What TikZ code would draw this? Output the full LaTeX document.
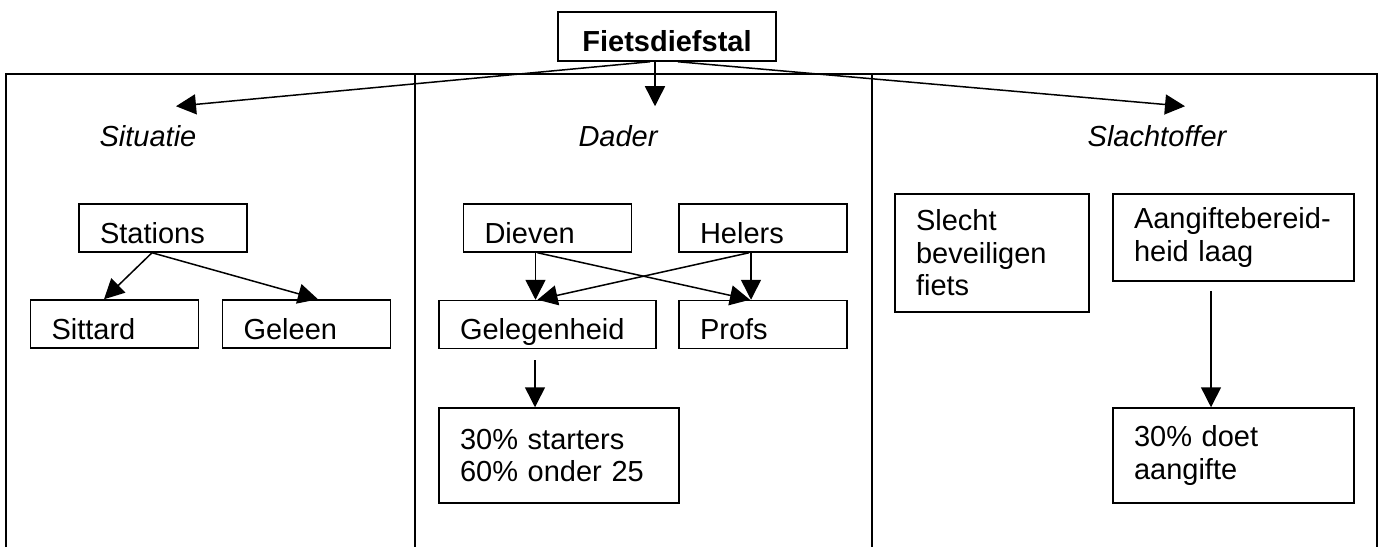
\documentclass[tikz,border=0pt]{standalone}
\usepackage{fontspec}
\setmainfont{Liberation Sans}
\usetikzlibrary{arrows.meta,positioning}
\newcommand\boxfont{\fontsize{14.5}{16.25}\selectfont}
\tikzset{
 box/.style={draw,align=left,inner xsep=10.5pt,inner ysep=0pt,font=\boxfont,
   text width=#1-21pt,minimum height=24pt,text height=15pt,text depth=0pt},
 tallbox/.style 2 args={draw,align=left,inner xsep=10.5pt,inner ysep=0pt,font=\boxfont,
   text width=#1-21pt,minimum height=#2},
 head/.style={anchor=base,inner sep=0pt,font=\boxfont\itshape},
 arr/.style={-{Triangle[length=10pt,width=10pt]}},
}

\begin{document}
\begin{tikzpicture}[x=0.5pt,y=-0.5pt,on grid,line width=0.75pt]
 \useasboundingbox (0,0) rectangle (1380,547);
 % frame
 \draw (6,547) -- (6,74) -- (1377,74) -- (1377,547);
 \draw (415,74) -- (415,547);
 \draw (872,74) -- (872,547);

 \node[draw,font=\boxfont\bfseries,minimum width=109pt,minimum height=24.5pt,inner sep=0pt,
   text height=15pt,text depth=0pt] (diefstal) at (667,36.5) {Fietsdiefstal};
 \node[head] (situatie) at (148,146) {Situatie};
 \node[head] (dader) at (618,146) {Dader};
 \node[head] (slachtoffer) at (1157,146) {Slachtoffer};

 % situatie
 \node[box=84pt] (stations) at (163,228) {Stations};
 \node[box=84pt] (sittard) [below left=48pt and 24.25pt of stations] {Sittard};
 \node[box=84pt] (geleen) [below right=48pt and 71.75pt of stations] {Geleen};

 % dader
 \node[box=84pt] (dieven) at (547.5,228) {Dieven};
 \node[box=84pt] (helers) [right=107.75pt of dieven] {Helers};
 \node[box=108.5pt] (gelegenheid) [below=48.25pt of dieven] {Gelegenheid};
 \node[box=84pt] (profs) [below=48.25pt of helers] {Profs};
 \node[tallbox={120pt}{47.5pt}] (starters) [below right=65.5pt and 5.75pt of gelegenheid] {30\% starters\\60\% onder 25};

 % slachtoffer
 \node[tallbox={97pt}{59pt}] (slecht) at (992,253) {Slecht\\beveiligen\\fiets};
 \node[tallbox={120.5pt}{43.5pt}] (aangifte) at (1233.5,237.5) {Aangiftebereid-\\heid laag};
 \node[tallbox={120.5pt}{47.5pt}] (doet) [below=109pt of aangifte] {30\% doet\\aangifte};

 \draw[arr] ([xshift=-8.5pt]diefstal.south) -- ([xshift=14pt,yshift=9pt]situatie.north);
 \draw[arr] ([xshift=-6pt]diefstal.south) -- ([xshift=18.5pt,yshift=9pt]dader.north);
 \draw[arr] ([xshift=5.5pt]diefstal.south) -- ([xshift=14pt,yshift=9pt]slachtoffer.north);

 \draw[arr] ([xshift=-5.5pt]stations.south) -- ([xshift=-5.25pt]sittard.north);
 \draw[arr] ([xshift=-5.5pt]stations.south) -- ([xshift=5.75pt]geleen.north);

 \draw[arr] ([xshift=-6pt]dieven.south) -- ([xshift=-6pt]gelegenheid.north);
 \draw[arr] ([xshift=-5pt]dieven.south) -- ([xshift=-6.5pt]profs.north);
 \draw[arr] ([xshift=-6pt]helers.south) -- ([xshift=-6pt]profs.north);
 \draw[arr] ([xshift=-7pt]helers.south) -- ([xshift=-5pt]gelegenheid.north);
 \draw[arr,shorten <=5.5pt] ([xshift=-6.25pt]gelegenheid.south) -- ([xshift=-12pt]starters.north);

 \draw[arr,shorten <=4.5pt] ([xshift=-11.25pt]aangifte.south) -- ([xshift=-11.25pt]doet.north);
\end{tikzpicture}
\end{document}
